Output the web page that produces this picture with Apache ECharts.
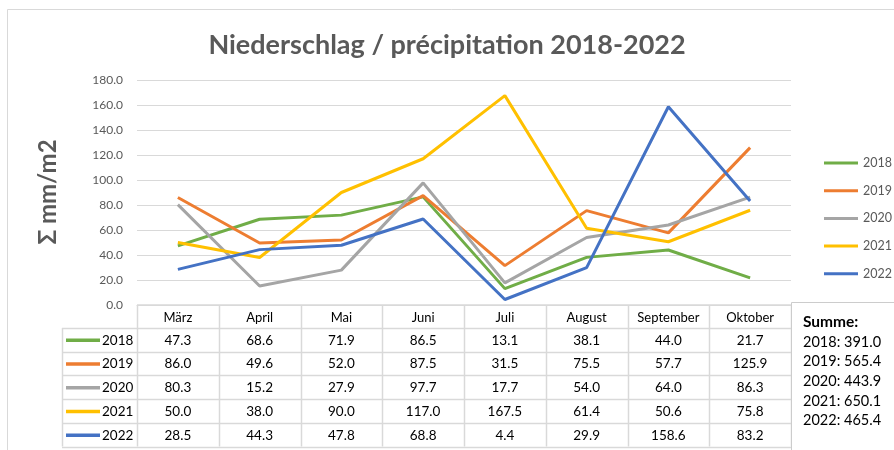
<!DOCTYPE html>
<html>
<head>
<meta charset="utf-8">
<script src="https://cdn.jsdelivr.net/npm/echarts@6/dist/echarts.min.js"></script>
<style>html,body{margin:0;padding:0;background:#fff}#c{width:894px;height:450px}</style>
</head>
<body>
<div id="c"></div>
<script>
const months = ['März', 'April', 'Mai', 'Juni', 'Juli', 'August', 'September', 'Oktober'];
const years = ['2018', '2019', '2020', '2021', '2022'];
const v2018 = [47.3, 68.6, 71.9, 86.5, 13.1, 38.1, 44.0, 21.7];
const v2019 = [86.0, 49.6, 52.0, 87.5, 31.5, 75.5, 57.7, 125.9];
const v2020 = [80.3, 15.2, 27.9, 97.7, 17.7, 54.0, 64.0, 86.3];
const v2021 = [50.0, 38.0, 90.0, 117.0, 167.5, 61.4, 50.6, 75.8];
const v2022 = [28.5, 44.3, 47.8, 68.8, 4.4, 29.9, 158.6, 83.2];
const sums = ['391.0', '565.4', '443.9', '650.1', '465.4'];
const yMin = 0, yMax = 180, yStep = 20;
const titleText = 'Niederschlag / précipitation 2018-2022';
const yName = 'Σ mm/m2';
const sumTitle = 'Summe:';

const seriesValues = [v2018, v2019, v2020, v2021, v2022];
const colors = ['#70ad47', '#ed7d31', '#a5a5a5', '#ffc000', '#4472c4'];
const FONT = 'Lato, "Open Sans", sans-serif';
const GRID = { left: 137, right: 103, top: 80, bottom: 145 };

const chart = echarts.init(document.getElementById('c'), null, { renderer: 'canvas' });
chart.setOption({
  backgroundColor: '#fff',
  animation: false,
  textStyle: { fontFamily: FONT },
  title: {
    text: titleText, left: 'center', top: 27,
    textStyle: { fontFamily: FONT, fontSize: 27, fontWeight: 'bold', color: '#595959' }
  },
  legend: {
    orient: 'vertical', left: 819, top: 151,
    itemWidth: 34, itemHeight: 3, itemGap: 13.7,
    icon: 'rect',
    textStyle: { fontFamily: FONT, fontSize: 12.5, color: '#595959', lineHeight: 14 },
    data: years
  },
  grid: GRID,
  xAxis: {
    type: 'category', data: months, boundaryGap: true,
    axisLine: { lineStyle: { color: '#d9d9d9', width: 1 } },
    axisTick: { show: false },
    axisLabel: { show: false }
  },
  yAxis: {
    type: 'value', min: yMin, max: yMax, interval: yStep,
    axisLine: { show: false }, axisTick: { show: false },
    axisLabel: { formatter: v => v.toFixed(1), color: '#595959', fontSize: 12, margin: 14, fontFamily: FONT },
    splitLine: { lineStyle: { color: '#d9d9d9', width: 1 } }
  },
  series: years.map((y, i) => ({
    name: y, type: 'line', data: seriesValues[i], showSymbol: false, symbol: 'none',
    lineStyle: { width: 3, color: colors[i] }, itemStyle: { color: colors[i] },
    z: 2 + i
  }))
});

// Build data table and other text from arrays
const g = [];
const W = 894, H = 450;
const gridL = GRID.left, gridR = W - GRID.right;
const tableTop = H - GRID.bottom;
const headH = 23, rowH = 23.7;
const labelColL = 62;
const colW = (gridR - gridL) / months.length;
const lineC = '#d9d9d9';

// outer chart border
g.push({ type: 'rect', shape: { x: 7.5, y: 9.5, width: 1000, height: 1000 }, style: { fill: null, stroke: lineC, lineWidth: 1 }, silent: true });
// y axis name
g.push({ type: 'text', x: 48, y: 192, rotation: Math.PI / 2, style: { text: yName, fontFamily: FONT, fontSize: 24, fontWeight: 'bold', fill: '#595959', align: 'center', verticalAlign: 'middle' } });

const bottom = tableTop + headH + rowH * years.length;
// horizontal lines
g.push({ type: 'line', shape: { x1: gridL, y1: tableTop, x2: gridR, y2: tableTop }, style: { stroke: lineC, lineWidth: 1.5 } });
for (let r = 0; r <= years.length; r++) {
  const y = Math.round(tableTop + headH + r * rowH) + 0.5;
  g.push({ type: 'line', shape: { x1: labelColL, y1: y, x2: gridR, y2: y }, style: { stroke: lineC, lineWidth: 1.5 } });
}
// vertical lines
for (let c = 0; c <= months.length; c++) {
  const x = Math.round(gridL + c * colW) + 0.5;
  g.push({ type: 'line', shape: { x1: x, y1: tableTop, x2: x, y2: bottom }, style: { stroke: lineC, lineWidth: 1.5 } });
}
g.push({ type: 'line', shape: { x1: labelColL + 0.5, y1: tableTop + headH, x2: labelColL + 0.5, y2: bottom }, style: { stroke: lineC, lineWidth: 1.5 } });

// header
months.forEach((m, c) => {
  const cx = chart.convertToPixel({ xAxisIndex: 0 }, c);
  g.push({ type: 'text', x: cx, y: tableTop + headH / 2 + 1, style: { text: m, fontFamily: FONT, fontSize: 13, fill: '#000', align: 'center', verticalAlign: 'middle' } });
});
// rows
years.forEach((yr, r) => {
  const cy = tableTop + headH + (r + 0.5) * rowH + 0.5;
  g.push({ type: 'line', shape: { x1: 66, y1: cy, x2: 100, y2: cy }, style: { stroke: colors[r], lineWidth: 3.5 } });
  g.push({ type: 'text', x: 102, y: cy, style: { text: yr, fontFamily: FONT, fontSize: 13.5, fill: '#000', align: 'left', verticalAlign: 'middle' } });
  seriesValues[r].forEach((v, c) => {
    const cx = chart.convertToPixel({ xAxisIndex: 0 }, c);
    g.push({ type: 'text', x: cx, y: cy, style: { text: v.toFixed(1), fontFamily: FONT, fontSize: 13.5, fill: '#000', align: 'center', verticalAlign: 'middle' } });
  });
});

// sum box
g.push({ type: 'rect', z: 20, shape: { x: gridR + 0.5, y: tableTop - 2.5, width: 200, height: 200 }, style: { fill: '#fff', stroke: '#cccccc', lineWidth: 1 } });
g.push({ type: 'text', z: 21, x: 803, y: 322, style: { text: sumTitle, fontFamily: FONT, fontSize: 15.5, fontWeight: 'bold', fill: '#000', align: 'left', verticalAlign: 'middle' } });
years.forEach((yr, r) => {
  g.push({ type: 'text', z: 21, x: 803, y: 342 + r * 19.7, style: { text: yr + ': ' + sums[r], fontFamily: FONT, fontSize: 14.5, fill: '#000', align: 'left', verticalAlign: 'middle' } });
});

chart.setOption({ graphic: { elements: g } });
</script>
</body>
</html>
